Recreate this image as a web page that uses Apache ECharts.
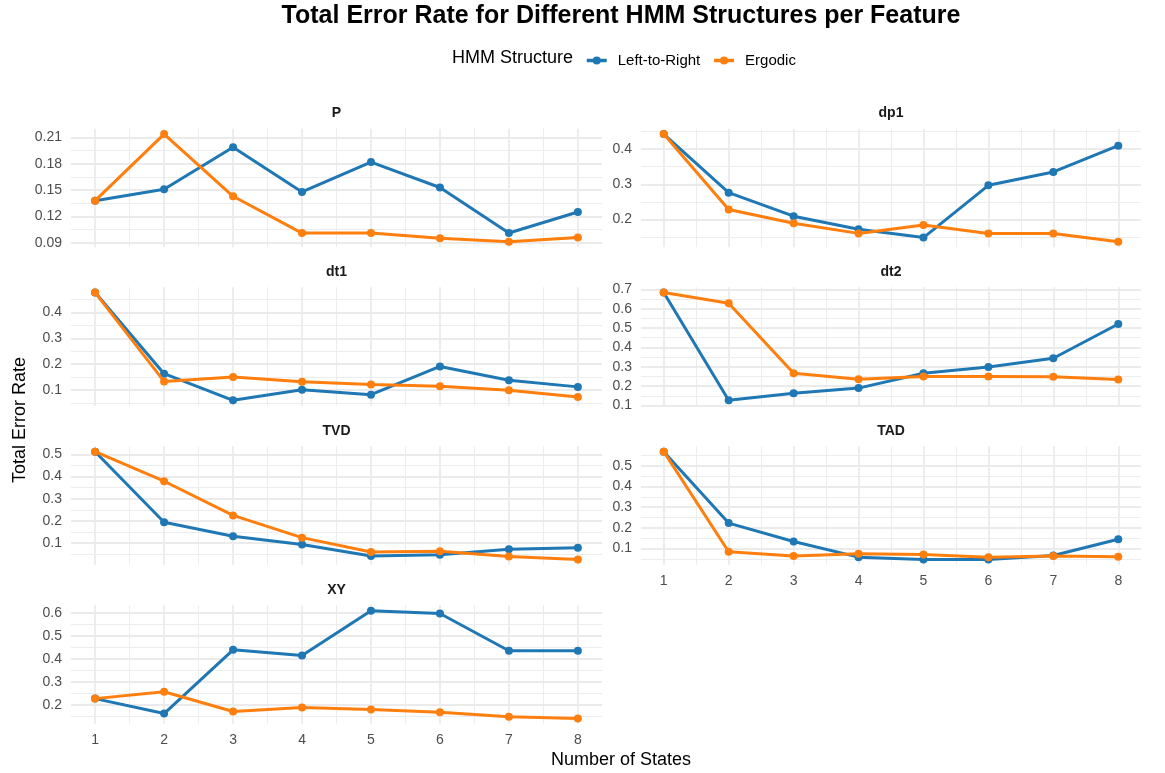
<!DOCTYPE html>
<html>
<head>
<meta charset="utf-8">
<script src="https://cdn.jsdelivr.net/npm/echarts@6/dist/echarts.min.js"></script>
<style>
  html, body { margin: 0; padding: 0; background: #ffffff; }
  #chart { width: 1165px; height: 773px; }
</style>
</head>
<body>
<div id="chart"></div>
<script>
// Number of hidden states tried for each model
const states = [1, 2, 3, 4, 5, 6, 7, 8];

// Total error rate per feature, Left-to-Right vs Ergodic HMM
const ltrP   = [0.138, 0.151, 0.199, 0.148, 0.182, 0.153, 0.101, 0.125];
const ergP   = [0.138, 0.214, 0.143, 0.101, 0.101, 0.095, 0.091, 0.096];
const ltrDp1 = [0.443, 0.276, 0.209, 0.172, 0.148, 0.297, 0.335, 0.410];
const ergDp1 = [0.443, 0.228, 0.189, 0.160, 0.184, 0.160, 0.160, 0.136];
const ltrDt1 = [0.477, 0.163, 0.060, 0.101, 0.082, 0.191, 0.138, 0.112];
const ergDt1 = [0.477, 0.133, 0.150, 0.132, 0.121, 0.114, 0.099, 0.073];
const ltrDt2 = [0.683, 0.127, 0.163, 0.190, 0.267, 0.299, 0.344, 0.521];
const ergDt2 = [0.683, 0.628, 0.267, 0.236, 0.250, 0.250, 0.248, 0.235];
const ltrTVD = [0.512, 0.194, 0.131, 0.094, 0.042, 0.048, 0.073, 0.079];
const ergTVD = [0.512, 0.379, 0.225, 0.125, 0.060, 0.064, 0.040, 0.027];
const ltrTAD = [0.569, 0.223, 0.134, 0.058, 0.047, 0.047, 0.066, 0.145];
const ergTAD = [0.569, 0.084, 0.063, 0.074, 0.071, 0.058, 0.063, 0.060];
const ltrXY  = [0.227, 0.162, 0.439, 0.414, 0.609, 0.597, 0.435, 0.435];
const ergXY  = [0.227, 0.257, 0.171, 0.188, 0.180, 0.168, 0.148, 0.141];

// Y tick labels for each facet
const ticksP   = [0.09, 0.12, 0.15, 0.18, 0.21];
const ticksDp1 = [0.2, 0.3, 0.4];
const ticksDt1 = [0.1, 0.2, 0.3, 0.4];
const ticksDt2 = [0.1, 0.2, 0.3, 0.4, 0.5, 0.6, 0.7];
const ticksTVD = [0.1, 0.2, 0.3, 0.4, 0.5];
const ticksTAD = [0.1, 0.2, 0.3, 0.4, 0.5];
const ticksXY  = [0.2, 0.3, 0.4, 0.5, 0.6];

const seriesNames = ['Left-to-Right', 'Ergodic'];
const seriesColors = ['#1F77B4', '#FF7F0E'];

const facets = [
  { name: 'P',   ltr: ltrP,   erg: ergP,   ticks: ticksP },
  { name: 'dp1', ltr: ltrDp1, erg: ergDp1, ticks: ticksDp1 },
  { name: 'dt1', ltr: ltrDt1, erg: ergDt1, ticks: ticksDt1 },
  { name: 'dt2', ltr: ltrDt2, erg: ergDt2, ticks: ticksDt2 },
  { name: 'TVD', ltr: ltrTVD, erg: ergTVD, ticks: ticksTVD },
  { name: 'TAD', ltr: ltrTAD, erg: ergTAD, ticks: ticksTAD },
  { name: 'XY',  ltr: ltrXY,  erg: ergXY,  ticks: ticksXY }
];

// Facet grid geometry (two columns, four rows)
const colLeft = [71, 641];
const colWidth = [531, 500];
const rowTop = [128.7, 287.2, 446.3, 605.3];
const panelH = 118.5;

const FONT = '"Liberation Sans", Arial, Helvetica, sans-serif';
const GRID_COLOR = '#EBEBEB';

// Continuous-scale padding: 5% of the data range on each side
function padded(values) {
  const lo = Math.min.apply(null, values);
  const hi = Math.max.apply(null, values);
  const pad = (hi - lo) * 0.05;
  return [lo - pad, hi + pad];
}
// Minor grid positions halfway between major breaks, one step beyond each end
function minorBreaks(ticks) {
  const step = ticks[1] - ticks[0];
  const out = [ticks[0] - step / 2];
  for (let i = 0; i < ticks.length; i++) out.push(ticks[i] + step / 2);
  return out.map(v => +v.toFixed(4));
}
function fmt(v) { return String(parseFloat(Number(v).toFixed(3))); }

const xRange = padded(states);
const xMinor = minorBreaks(states);

const grids = [], xAxes = [], yAxes = [], series = [], graphics = [];

facets.forEach((f, i) => {
  const col = i % 2;
  const row = Math.floor(i / 2);
  const isBottom = (f.name === 'XY' || f.name === 'TAD');
  grids.push({ left: colLeft[col], top: rowTop[row], width: colWidth[col], height: panelH, containLabel: false });

  // major x axis (labels only on bottom facets)
  xAxes.push({
    type: 'value', gridIndex: i, min: xRange[0], max: xRange[1],
    axisLine: { show: false },
    axisTick: { show: false, customValues: states },
    axisLabel: { show: isBottom, customValues: states, color: '#4D4D4D', fontSize: 14, fontFamily: FONT, margin: 9 },
    splitLine: { show: true, lineStyle: { color: GRID_COLOR, width: 1.8 } },
    z: 1
  });
  // minor x grid
  xAxes.push({
    type: 'value', gridIndex: i, min: xRange[0], max: xRange[1], position: 'top',
    axisLine: { show: false },
    axisTick: { show: false, customValues: xMinor },
    axisLabel: { show: false, customValues: xMinor },
    splitLine: { show: true, lineStyle: { color: GRID_COLOR, width: 0.9 } },
    z: 0
  });

  const yRange = padded(f.ltr.concat(f.erg));
  const yMinor = minorBreaks(f.ticks);
  yAxes.push({
    type: 'value', gridIndex: i, min: yRange[0], max: yRange[1],
    axisLine: { show: false },
    axisTick: { show: false, customValues: f.ticks },
    axisLabel: { show: true, customValues: f.ticks, color: '#4D4D4D', fontSize: 14, fontFamily: FONT, margin: 9, formatter: fmt },
    splitLine: { show: true, lineStyle: { color: GRID_COLOR, width: 1.8 } },
    z: 1
  });
  yAxes.push({
    type: 'value', gridIndex: i, min: yRange[0], max: yRange[1], position: 'right',
    axisLine: { show: false },
    axisTick: { show: false, customValues: yMinor },
    axisLabel: { show: false, customValues: yMinor },
    splitLine: { show: true, lineStyle: { color: GRID_COLOR, width: 0.9 } },
    z: 0
  });

  [f.ltr, f.erg].forEach((vals, k) => {
    series.push({
      name: seriesNames[k],
      type: 'line',
      xAxisIndex: 2 * i,
      yAxisIndex: 2 * i,
      data: states.map((s, j) => [s, vals[j]]),
      symbol: 'circle',
      symbolSize: 8,
      showSymbol: true,
      lineStyle: { width: 3, color: seriesColors[k] },
      itemStyle: { color: seriesColors[k] },
      z: 3 + k
    });
  });

  // facet strip label
  graphics.push({
    type: 'text',
    x: colLeft[col] + colWidth[col] / 2,
    y: rowTop[row] - 15.5,
    style: { text: f.name, font: 'bold 14px ' + FONT, fill: '#1A1A1A', textAlign: 'center', textVerticalAlign: 'middle' }
  });
});

// Title, legend heading and axis titles
graphics.push({
  type: 'text', x: 621, y: 16,
  style: { text: 'Total Error Rate for Different HMM Structures per Feature', font: 'bold 25px ' + FONT, fill: '#000000', textAlign: 'center', textVerticalAlign: 'middle' }
});
graphics.push({
  type: 'text', x: 573, y: 58,
  style: { text: 'HMM Structure', font: '18px ' + FONT, fill: '#000000', textAlign: 'right', textVerticalAlign: 'middle' }
});
graphics.push({
  type: 'text', x: 621, y: 760,
  style: { text: 'Number of States', font: '18px ' + FONT, fill: '#000000', textAlign: 'center', textVerticalAlign: 'middle' }
});
graphics.push({
  type: 'text', x: 20, y: 420, rotation: Math.PI / 2,
  style: { text: 'Total Error Rate', font: '18px ' + FONT, fill: '#000000', textAlign: 'center', textVerticalAlign: 'middle' }
});

const chart = echarts.init(document.getElementById('chart'), null, { renderer: 'canvas' });
chart.setOption({
  backgroundColor: '#ffffff',
  animation: false,
  grid: grids,
  xAxis: xAxes,
  yAxis: yAxes,
  series: series,
  legend: {
    data: seriesNames,
    left: 585,
    top: 53,
    padding: 0,
    itemWidth: 20,
    itemHeight: 10,
    itemGap: 12,
    lineStyle: { width: 3.5 },
    textStyle: { fontSize: 15, fontFamily: FONT, color: '#000000', padding: [0, 0, 0, 6] }
  },
  graphic: graphics
});
</script>
</body>
</html>
